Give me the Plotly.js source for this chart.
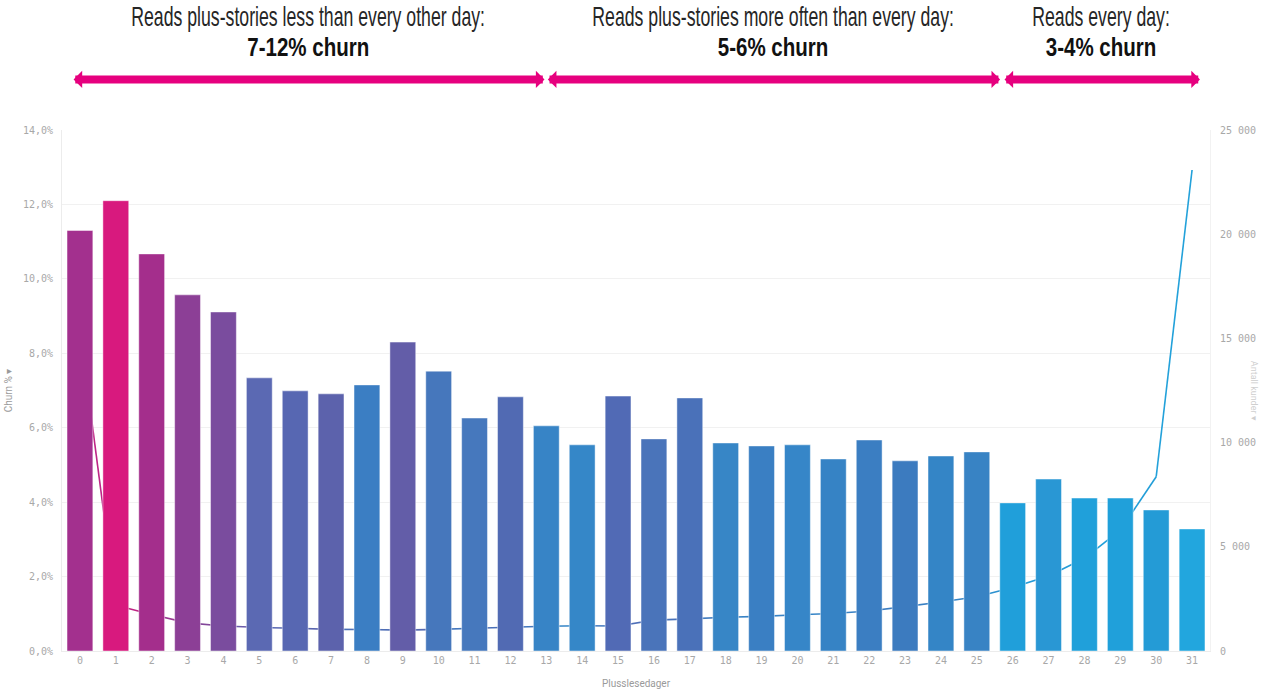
<!DOCTYPE html>
<html><head><meta charset="utf-8">
<script src="https://cdn.plot.ly/plotly-3.0.1.min.js"></script>
<style>html,body{margin:0;padding:0;background:#fff;}#chart{width:1270px;height:691px;}</style>
</head><body><div id="chart"></div>
<script>
const days = [0,1,2,3,4,5,6,7,8,9,10,11,12,13,14,15,16,17,18,19,20,21,22,23,24,25,26,27,28,29,30,31];
const churnPct = [11.3,12.1,10.67,9.57,9.11,7.34,6.99,6.91,7.15,8.30,7.52,6.26,6.83,6.05,5.54,6.85,5.70,6.80,5.59,5.51,5.54,5.16,5.67,5.11,5.24,5.35,3.98,4.62,4.11,4.11,3.79,3.28];
const customers = [15400,2200,1750,1350,1200,1130,1090,1040,1030,1000,1040,1090,1140,1190,1210,1200,1480,1540,1620,1660,1740,1800,1920,2130,2350,2600,3050,3600,4450,5800,8360,23080];
const barColors = ['#A3308E','#D8197E','#A42E8C','#8C3F96','#7A4C9E','#5B69B3','#5767B2','#5C62AC','#3B7EC3','#635DA8','#4677BC','#4678BD','#516AB3','#3784C6','#3587C8','#516AB5','#4A74BA','#4A71B9','#3786C6','#3A7FC3','#3686C8','#3683C5','#3B7EC2','#3C7BBF','#3485C6','#3883C4','#209FDA','#2997D4','#20A0DA','#20A0DA','#249BD6','#22A6DE'];
const groupHeads = ['Reads plus-stories less than every other day:','Reads plus-stories more often than every day:','Reads every day:'];
const groupChurn = ['7-12% churn','5-6% churn','3-4% churn'];

function mix(a,b){
  const pa=[1,3,5].map(i=>parseInt(a.substr(i,2),16));
  const pb=[1,3,5].map(i=>parseInt(b.substr(i,2),16));
  return 'rgb('+pa.map((v,k)=>Math.round((v+pb[k])/2)).join(',')+')';
}

const traces = [];
for(let i=0;i<days.length-1;i++){
  traces.push({type:'scatter',mode:'lines',x:[days[i],days[i+1]],y:[customers[i],customers[i+1]],
    yaxis:'y',line:{color:mix(barColors[i],barColors[i+1]),width:1.6},hoverinfo:'skip',showlegend:false});
}
traces.push({type:'bar',x:days,y:churnPct,yaxis:'y2',
  marker:{color:barColors,line:{color:'rgba(255,255,255,0.45)',width:1}},showlegend:false});

const tickFont = {family:'DejaVu Sans Mono, monospace',size:10,color:'#a8a8a8'};
const pink = '#E6007E';
const arrows = [[-0.22,12.95],[13.0,25.65],[25.73,31.22]];
const annotations = [];
const squeeze = [];
arrows.forEach((a,k)=>{
  annotations.push({xref:'x',yref:'paper',x:a[1],y:1.097,axref:'x',ayref:'pixel',ax:a[0],ay:0,
    text:'',showarrow:true,arrowside:'end+start',arrowhead:1,startarrowhead:1,arrowsize:0.36,startarrowsize:0.36,
    arrowwidth:8,arrowcolor:pink,standoff:0,startstandoff:0});
  squeeze.push(1);
  annotations.push({xref:'x',yref:'paper',x:(a[0]+a[1])/2,y:1.216,yanchor:'middle',xanchor:'center',showarrow:false,
    text:groupHeads[k],font:{family:'Liberation Sans, Arial, sans-serif',size:27,color:'#262626'}});
  squeeze.push(0.655);
  annotations.push({xref:'x',yref:'paper',x:(a[0]+a[1])/2,y:1.16,yanchor:'middle',xanchor:'center',showarrow:false,
    text:'<b>'+groupChurn[k]+'</b>',font:{family:'Liberation Sans, Arial, sans-serif',size:26,color:'#111'}});
  squeeze.push(0.79);
});
annotations.push({xref:'paper',yref:'paper',x:1.045,y:0.5,text:'Antall kunder ▾',textangle:90,showarrow:false,
  font:{family:'Roboto, sans-serif',size:9,color:'#cfcfcf'}});
squeeze.push(1);

const layout = {
  width:1270,height:691,
  margin:{l:62,r:60,t:130,b:40},
  paper_bgcolor:'#fff',plot_bgcolor:'#fff',
  separators:', ',
  bargap:0.28,
  xaxis:{range:[-0.5,31.5],tickmode:'array',tickvals:days,ticktext:days.map(String),tickfont:tickFont,
    showgrid:false,zeroline:false,showline:true,linecolor:'#ececec',linewidth:1,ticks:'',
    title:{text:'Plusslesedager',font:{family:'Roboto, sans-serif',size:10,color:'#9a9a9a'},standoff:14}},
  yaxis:{range:[0,25000],side:'right',tickmode:'linear',tick0:0,dtick:5000,tickformat:',d',tickfont:tickFont,
    showgrid:false,zeroline:false,showline:true,linecolor:'#f2f2f2',ticks:'',ticklabelstandoff:7},
  yaxis2:{range:[0,14],overlaying:'y',side:'left',tickmode:'linear',tick0:0,dtick:2,tickformat:'.1f',ticksuffix:'%',
    tickfont:tickFont,showgrid:true,gridcolor:'#f1f1f1',gridwidth:1,zeroline:false,showline:true,linecolor:'#ececec',ticks:'',
    ticklabelstandoff:6,
    title:{text:'Churn % ▾',font:{family:'Roboto, sans-serif',size:10,color:'#9a9a9a'},standoff:8}},
  annotations:annotations
};
Plotly.newPlot('chart',traces,layout,{displayModeBar:false,staticPlot:true}).then(gd=>{
  gd.querySelectorAll('g.annotation').forEach(g=>{
    const idx = +g.getAttribute('data-index');
    const s = squeeze[idx];
    if(s===1) return;
    const t = g.querySelector('text.annotation-text');
    if(!t) return;
    const bb = t.getBBox();
    const cx = bb.x + bb.width/2;
    t.setAttribute('transform','translate('+cx+',0) scale('+s+',1) translate('+(-cx)+',0)');
  });
});
</script></body></html>
